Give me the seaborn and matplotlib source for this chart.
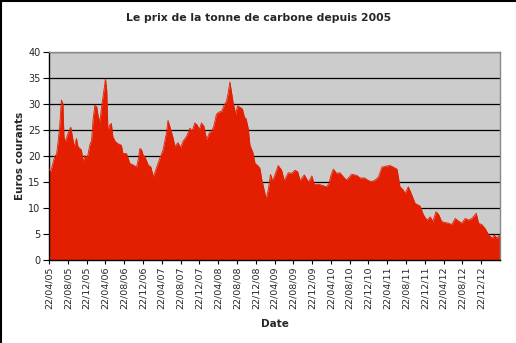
import matplotlib
matplotlib.use("Agg")
import matplotlib.pyplot as plt
from matplotlib.lines import Line2D
import seaborn as sns
import pandas as pd

title = "Le prix de la tonne de carbone depuis 2005"
x_label = "Date"
y_label = "Euros courants"

dates = [
    "2005-04-23", "2005-05-03", "2005-05-16", "2005-05-28", "2005-06-10", "2005-06-19",
    "2005-06-30", "2005-07-11", "2005-07-21", "2005-07-28", "2005-08-06", "2005-08-23",
    "2005-09-10", "2005-09-21", "2005-10-02", "2005-10-17", "2005-10-27", "2005-11-18",
    "2005-11-29", "2005-12-10", "2005-12-27", "2006-01-11", "2006-01-23", "2006-02-02",
    "2006-02-13", "2006-02-25", "2006-03-07", "2006-03-18", "2006-03-31", "2006-04-13",
    "2006-04-23", "2006-05-01", "2006-05-09", "2006-05-20", "2006-05-31", "2006-06-10",
    "2006-06-26", "2006-07-13", "2006-08-04", "2006-08-14", "2006-09-06", "2006-09-28",
    "2006-10-19", "2006-11-10", "2006-11-20", "2006-12-02", "2006-12-13", "2006-12-23",
    "2007-01-03", "2007-01-25", "2007-02-11", "2007-02-27", "2007-03-21", "2007-04-09",
    "2007-05-01", "2007-05-23", "2007-06-02", "2007-06-13", "2007-07-05", "2007-07-16",
    "2007-08-06", "2007-08-22", "2007-09-08", "2007-09-30", "2007-10-22", "2007-11-05",
    "2007-11-23", "2007-12-08", "2007-12-21", "2008-01-05", "2008-01-20", "2008-02-07",
    "2008-02-25", "2008-03-11", "2008-03-25", "2008-04-11", "2008-04-29", "2008-05-16",
    "2008-05-29", "2008-06-15", "2008-06-26", "2008-07-07", "2008-07-18", "2008-07-28",
    "2008-08-13", "2008-08-26", "2008-09-10", "2008-09-26", "2008-10-09", "2008-10-20",
    "2008-11-03", "2008-11-14", "2008-12-02", "2008-12-17", "2009-01-07", "2009-01-18",
    "2009-01-30", "2009-02-14", "2009-02-27", "2009-03-14", "2009-03-27", "2009-04-09",
    "2009-04-25", "2009-05-16", "2009-06-07", "2009-06-24", "2009-07-20", "2009-08-11",
    "2009-09-02", "2009-09-19", "2009-10-05", "2009-11-01", "2009-11-28", "2009-12-20",
    "2010-01-05", "2010-02-01", "2010-03-06", "2010-03-25", "2010-04-09", "2010-04-23",
    "2010-05-08", "2010-05-29", "2010-06-20", "2010-07-12", "2010-08-02", "2010-09-04",
    "2010-10-07", "2010-10-28", "2010-11-26", "2010-12-21", "2011-01-12", "2011-02-03",
    "2011-02-25", "2011-03-19", "2011-04-18", "2011-05-10", "2011-05-31", "2011-06-25",
    "2011-07-14", "2011-08-04", "2011-08-15", "2011-09-06", "2011-09-29", "2011-10-20",
    "2011-11-21", "2011-12-13", "2012-01-04", "2012-01-26", "2012-02-12", "2012-03-03",
    "2012-03-20", "2012-04-09", "2012-05-02", "2012-05-23", "2012-06-13", "2012-07-06",
    "2012-07-27", "2012-08-17", "2012-09-09", "2012-09-30", "2012-10-22", "2012-11-19",
    "2012-12-04", "2012-12-26", "2013-01-17", "2013-02-08", "2013-03-02", "2013-03-17",
    "2013-04-01", "2013-04-19",
]

prices = [
    17.5, 17.0, 18.5, 19.9, 20.4, 22.5,
    25.6, 30.8, 30.1, 23.7, 22.8, 24.4,
    25.6, 23.7, 21.8, 23.4, 21.8, 21.2,
    18.9, 20.1, 19.8, 22.1, 23.1, 27.2,
    29.8, 29.5, 27.6, 26.6, 30.1, 32.7,
    34.9, 32.7, 24.7, 26.0, 26.3, 23.7,
    22.8, 22.4, 22.1, 20.5, 20.5, 18.6,
    18.3, 17.9, 19.2, 21.5, 21.2, 20.2,
    19.9, 18.3, 17.9, 16.0, 17.9, 19.5,
    21.2, 24.5, 26.9, 25.8, 23.5, 21.9,
    22.6, 21.6, 22.9, 23.8, 25.4, 24.8,
    26.4, 26.0, 25.1, 26.4, 25.8, 23.2,
    24.5, 24.8, 25.8, 28.1, 28.5, 28.7,
    29.7, 30.6, 32.2, 34.3, 32.2, 30.3,
    28.1, 29.7, 29.4, 29.1, 27.5, 27.2,
    25.3, 22.1, 20.8, 18.6, 18.1, 17.6,
    15.4, 13.5, 11.7, 13.8, 16.5, 15.3,
    16.4, 18.2, 17.3, 15.3, 16.8, 16.7,
    17.3, 17.0, 15.3, 16.4, 15.0, 16.2,
    14.5, 14.6, 14.3, 14.1, 14.7, 16.3,
    17.5, 16.7, 16.8, 16.0, 15.4, 16.5,
    16.3, 15.8, 15.8, 15.3, 15.1, 15.4,
    16.0, 17.9, 18.1, 18.2, 17.9, 17.5,
    14.1, 13.5, 12.8, 14.1, 12.5, 10.9,
    10.4, 8.7, 7.7, 8.3, 7.4, 9.3,
    8.8, 7.4, 7.2, 7.1, 6.8, 8.0,
    7.5, 7.1, 8.0, 7.7, 8.0, 9.0,
    7.1, 6.8, 6.0, 4.8, 4.2, 4.8,
    4.2, 4.8,
]

x_tick_labels = [
    "22/04/05", "22/08/05", "22/12/05", "22/04/06", "22/08/06", "22/12/06",
    "22/04/07", "22/08/07", "22/12/07", "22/04/08", "22/08/08", "22/12/08",
    "22/04/09", "22/08/09", "22/12/09", "22/04/10", "22/08/10", "22/12/10",
    "22/04/11", "22/08/11", "22/12/11", "22/04/12", "22/08/12", "22/12/12",
]
y_ticks = [0, 5, 10, 15, 20, 25, 30, 35, 40]

df = pd.DataFrame({"date": pd.to_datetime(dates), "price": prices})

sns.set_style("white")
plt.rcParams["font.family"] = ["DejaVu Sans"]

RED = "#E41E00"
fig = plt.figure(figsize=(5.16, 3.43), dpi=100)
ax = fig.add_axes([49 / 516, 1 - 260 / 343, 451 / 516, (260 - 52.3) / 343])
ax.set_facecolor("#CCCCCC")

ax.fill_between(df["date"], df["price"], 0, color=RED, linewidth=0, zorder=2)
sns.lineplot(data=df, x="date", y="price", ax=ax, color=RED, linewidth=0.6, zorder=3)

ax.set_ylim(0, 40)
ax.set_yticks(y_ticks)
ax.set_yticklabels([str(v) for v in y_ticks], fontsize=7)
tick_dates = pd.to_datetime(x_tick_labels, format="%d/%m/%y")
ax.set_xticks(tick_dates)
ax.set_xticklabels(x_tick_labels, rotation=90, fontsize=6.8)
ax.set_xlim(pd.Timestamp("2005-04-22"), pd.Timestamp("2013-04-22"))

for v in y_ticks[1:]:
    ax.axhline(v, color="black", linewidth=0.9, zorder=1)

ax.tick_params(axis="both", direction="out", length=3, width=0.8, color="black", pad=2)
ax.tick_params(axis="y", left=True, length=4)
ax.tick_params(axis="x", bottom=True)
for side in ["top", "right"]:
    ax.spines[side].set_color("#888888")
    ax.spines[side].set_linewidth(1)
for side in ["left", "bottom"]:
    ax.spines[side].set_color("black")
    ax.spines[side].set_linewidth(1)

ax.set_xlabel(x_label, fontsize=7.5, fontweight="bold", labelpad=7)
ax.set_ylabel(y_label, fontsize=7.5, fontweight="bold", labelpad=2)
fig.text(259 / 516, 1 - 18 / 343, title, ha="center", va="center", fontsize=7.8, fontweight="bold")

fig.add_artist(Line2D([0.5 / 516, 0.5 / 516], [0, 1], color="black", linewidth=1.5, transform=fig.transFigure))
fig.add_artist(Line2D([0, 1], [1 - 0.5 / 343, 1 - 0.5 / 343], color="black", linewidth=1.5, transform=fig.transFigure))

fig.savefig("out.png", dpi=100)
